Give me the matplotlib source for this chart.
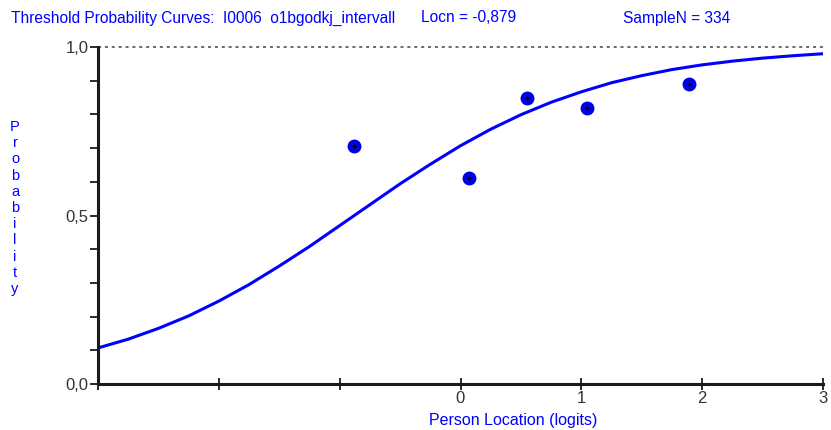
import numpy as np
import matplotlib
matplotlib.use("Agg")
import matplotlib.pyplot as plt

plt.rcParams['font.family'] = ['Liberation Sans Narrow', 'Liberation Sans', 'DejaVu Sans']

# curve
curve_x = [-3.0, -2.75, -2.5, -2.25, -2.0, -1.75, -1.5, -1.25, -1.0, -0.75, -0.5, -0.25,
           0.0, 0.25, 0.5, 0.75, 1.0, 1.25, 1.5, 1.75, 2.0, 2.25, 2.5, 2.75, 3.0]
curve_p = [0.107, 0.133, 0.165, 0.202, 0.246, 0.295, 0.350, 0.408, 0.470, 0.532, 0.594, 0.652,
           0.707, 0.756, 0.799, 0.836, 0.867, 0.894, 0.915, 0.933, 0.947, 0.958, 0.967, 0.974, 0.980]

# observed class interval means
obs_x = [-0.88, 0.07, 0.55, 1.05, 1.89]
obs_p = [0.705, 0.61, 0.85, 0.82, 0.89]

xticks = [-3, -2, -1, 0, 1, 2, 3]
xticklabels = ['', '', '', '0', '1', '2', '3']
yticks = [0.0, 0.5, 1.0]
yticklabels = ['0,0', '0,5', '1,0']

blue = '#0000ff'

fig = plt.figure(figsize=(8.31, 4.30), dpi=100)
ax = fig.add_axes([98/831, 1-384/430, (823-98)/831, (384-47)/430])

ax.plot(curve_x, curve_p, color=blue, lw=2.2, clip_on=False, solid_capstyle='butt')
ax.plot(obs_x, obs_p, 'o', color='#0000e6', markersize=9, clip_on=False)
ax.plot(obs_x, obs_p, '+', color='black', markersize=3, mew=0.8)
ax.axhline(1.0, color='#444444', lw=1.1, ls=(0, (2, 2.5)), clip_on=False)

ax.set_xlim(-3, 3)
ax.set_ylim(0, 1)
ax.set_xticks(xticks)
ax.set_xticklabels(xticklabels)
ax.set_yticks(yticks)
ax.set_yticklabels(yticklabels)
ax.set_yticks(np.arange(0, 1.01, 0.1), minor=True)

for s in ['top', 'right']:
    ax.spines[s].set_visible(False)
for s in ['left', 'bottom']:
    ax.spines[s].set_linewidth(2.2)
    ax.spines[s].set_color('#1a1a1a')

ax.tick_params(axis='y', which='both', direction='out', length=6, width=1.3,
               color='#1a1a1a', labelsize=12, labelcolor='#333333', pad=1)
ax.tick_params(axis='x', direction='inout', length=8, width=1.3,
               color='#1a1a1a', labelsize=12, labelcolor='#333333', pad=1)

fig.text(513/831, 1-420/430, 'Person Location (logits)', color=blue, fontsize=11.5,
         ha='center', va='center')

fig.text(15/831, 1-208/430, '\n'.join('Probability'), color=blue, fontsize=10.5,
         ha='center', va='center', linespacing=1.2)

fig.text(11/831, 1-18/430, 'Threshold Probability Curves:  I0006  o1bgodkj_intervall',
         color=blue, fontsize=11.2, va='center')
fig.text(421/831, 1-18/430, 'Locn = -0,879', color=blue, fontsize=11.2, va='center')
fig.text(623/831, 1-18/430, 'SampleN = 334', color=blue, fontsize=11.2, va='center')

fig.savefig('out.png', dpi=100)
